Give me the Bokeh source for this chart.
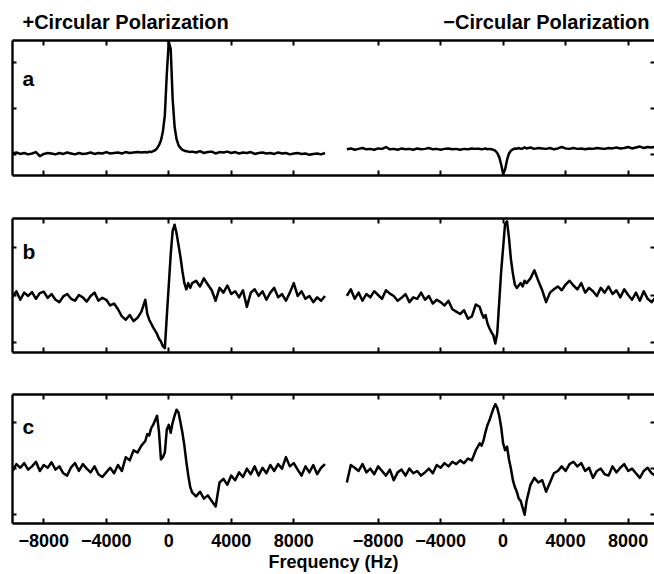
from bokeh.plotting import figure
from bokeh.models import Range1d, LinearAxis, FixedTicker, Label
from bokeh.layouts import column
from bokeh.core.properties import value
from bokeh.embed import file_html
from bokeh.resources import INLINE

# sample frequencies (Hz) shared by all six spectra
FREQ = (list(range(-10000, -1500, 250)) + list(range(-1500, 1500, 125))
        + list(range(1500, 10001, 250)))

X_TICKS = [-8000, -4000, 0, 4000, 8000]
X_TICK_LABELS = ["\u22128000", "\u22124000", "0", "4000", "8000"]
TITLE_PLUS = "+Circular Polarization"
TITLE_MINUS = "\u2212Circular Polarization"
X_LABEL = "Frequency (Hz)"
PANEL_LABELS = ["a", "b", "c"]

# ---- panel a ----
A_PLUS = [0.02, 0.04, 0.01, 0.03, 0.00, 0.02, 0.05, -0.04, 0.01, 0.03, 0.02, 0.00, 0.03, 0.01, 0.04, 0.02, 0.00,
          0.03, 0.01, 0.02, 0.04, 0.01, 0.03, 0.02, 0.05, 0.02, 0.03, 0.04, 0.02, 0.05, 0.03, 0.04, 0.05, 0.04,
          0.05, 0.04, 0.06, 0.05, 0.07, 0.09, 0.13, 0.20, 0.30, 0.50, 0.85, 1.75, 2.45, 2.30, 1.20, 0.60, 0.33,
          0.20, 0.14, 0.10, 0.08, 0.07, 0.06, 0.05,
          0.06, 0.04, 0.07, 0.03, 0.05, 0.06, 0.02, 0.05, 0.04, 0.06, 0.03, 0.05, 0.02, 0.04, 0.03, 0.05, 0.01,
          0.03, 0.04, 0.02, 0.03, 0.01, 0.04, 0.02, 0.03, 0.00, 0.02, 0.03, 0.01, 0.02, -0.01, 0.01, 0.02, 0.00, 0.03]
A_MINUS = [0.11, 0.13, 0.10, 0.12, 0.14, 0.11, 0.12, 0.10, 0.13, 0.12, 0.16, 0.11, 0.12, 0.10, 0.13, 0.11, 0.12,
           0.10, 0.13, 0.11, 0.12, 0.14, 0.11, 0.12, 0.10, 0.12, 0.13, 0.11, 0.12, 0.10, 0.12, 0.11, 0.13, 0.12,
           0.12, 0.11, 0.12, 0.13, 0.11, 0.12, 0.11, 0.10, 0.08, 0.03, -0.06, -0.22, -0.42, -0.33, -0.12, 0.02,
           0.08, 0.11, 0.13, 0.12, 0.14, 0.12, 0.13, 0.15,
           0.13, 0.15, 0.12, 0.14, 0.13, 0.12, 0.14, 0.11, 0.13, 0.16, 0.13, 0.12, 0.14, 0.12, 0.13, 0.11, 0.13,
           0.12, 0.14, 0.13, 0.12, 0.14, 0.13, 0.15, 0.13, 0.14, 0.16, 0.13, 0.15, 0.17, 0.14, 0.16, 0.15, 0.17, 0.15]
A_YTICKS = [0, 1, 2]
A_YLIM = (-0.46, 2.48)

# ---- panel b ----
B_PLUS = [-0.05, 0.08, -0.10, 0.05, -0.02, 0.06, -0.08, 0.04, 0.07, -0.06, 0.02, -0.10, -0.15, -0.03, 0.02, -0.08,
          -0.12, 0.00, -0.05, -0.14, -0.02, 0.05, -0.12, -0.06, -0.10, -0.22, -0.18, -0.30, -0.45, -0.52, -0.42,
          -0.55, -0.48, -0.35,
          -0.10, -0.40, -0.52, -0.60, -0.68, -0.75, -0.82, -0.92, -0.98, -1.08, -1.12, -0.45, 0.20, 0.85, 1.35,
          1.48, 1.30, 1.05, 0.80, 0.50, 0.25, 0.12, 0.25, 0.15,
          0.25, 0.30, 0.18, 0.35, 0.22, 0.10, -0.12, 0.15, 0.05, 0.20, 0.02, 0.08, -0.05, 0.10, -0.25, 0.05, 0.12,
          -0.02, 0.08, -0.10, 0.05, 0.15, -0.05, 0.02, -0.12, 0.05, 0.25, -0.02, 0.08, -0.08, -0.02, -0.15, -0.05,
          -0.12, -0.02]
B_MINUS = [-0.02, 0.12, -0.08, 0.05, -0.12, 0.02, -0.05, 0.08, 0.00, -0.08, 0.10, 0.03, -0.02, -0.12, -0.06, 0.02,
           -0.15, -0.05, -0.08, 0.05, -0.10, -0.02, -0.18, -0.10, -0.15, -0.22, -0.12, -0.30, -0.35, -0.40, -0.32,
           -0.50, -0.45, -0.20,
           -0.25, -0.38, -0.48, -0.42, -0.60, -0.70, -0.78, -0.85, -1.02, -0.80, -0.15, 0.50, 1.00, 1.50, 1.55,
           1.20, 0.75, 0.45, 0.22, 0.15, 0.20, 0.25, 0.18, 0.30,
           0.25, 0.35, 0.52, 0.30, 0.10, -0.15, 0.05, 0.12, 0.18, 0.10, 0.22, 0.30, 0.20, 0.12, 0.25, 0.05, 0.15,
           0.08, -0.02, 0.15, 0.05, 0.18, 0.02, 0.10, -0.05, 0.12, 0.00, -0.10, 0.05, -0.12, 0.08, -0.08, -0.15,
           -0.05, -0.10]
B_YTICKS = [-1, 0, 1]
B_YLIM = (-1.21, 1.61)

# ---- panel c ----
C_PLUS = [-0.05, 0.10, 0.02, 0.12, -0.02, 0.05, 0.15, -0.05, 0.08, 0.02, 0.14, -0.02, 0.05, -0.10, -0.15, 0.03,
          0.12, -0.05, 0.10, 0.00, -0.08, 0.05, -0.12, -0.18, -0.08, 0.02, -0.10, 0.08, -0.05, 0.25, 0.18, 0.40,
          0.35, 0.50,
          0.60, 0.75, 0.72, 0.88, 0.95, 1.05, 1.15, 0.80, 0.20, 0.25, 0.35, 0.85, 0.95, 0.78, 1.00, 1.15, 1.28,
          1.22, 1.00, 0.78, 0.50, 0.15, -0.15, -0.40,
          -0.52, -0.60, -0.50, -0.65, -0.58, -0.70, -0.82, -0.30, -0.22, -0.35, -0.15, -0.25, -0.08, -0.18, 0.00,
          -0.12, 0.05, -0.15, 0.02, -0.10, 0.08, -0.05, 0.10, 0.00, 0.25, 0.05, 0.12, -0.02, -0.15, 0.05, -0.08,
          0.08, -0.12, 0.02, 0.10]
C_MINUS = [-0.30, 0.08, 0.02, -0.05, 0.10, -0.08, 0.00, -0.12, 0.05, -0.05, -0.15, -0.02, -0.25, -0.08, -0.02,
           -0.15, 0.00, -0.10, -0.05, -0.15, -0.08, 0.00, -0.10, 0.08, 0.02, 0.12, 0.05, 0.15, 0.10, 0.18, 0.12,
           0.22, 0.18, 0.40,
           0.55, 0.50, 0.62, 0.80, 0.95, 1.05, 1.18, 1.30, 1.40, 1.32, 1.15, 0.90, 0.55, 0.40, 0.48, 0.20, 0.00,
           -0.25, -0.40, -0.50, -0.65, -0.70, -0.85, -1.00,
           -0.70, -0.35, -0.20, -0.30, -0.25, -0.50, -0.30, -0.10, -0.05, 0.05, -0.05, 0.10, 0.15, 0.05, 0.12,
           -0.05, 0.02, -0.20, -0.05, 0.00, -0.12, -0.15, 0.05, -0.08, 0.02, 0.10, -0.05, 0.00, -0.10, -0.20, -0.05,
           0.02, -0.10, -0.15, -0.08]
C_YTICKS = [-1, 0, 1]
C_YLIM = (-1.19, 1.61)

OFFSET = 21400          # where the right-hand spectrum sits on the shared axis
X_START, X_END = -10000, 31088

FONT = "Liberation Sans"
W = 654


def axis(ticks, tick_len, line=True, overrides=None, show_labels=False):
    ax = LinearAxis(ticker=FixedTicker(ticks=ticks), major_tick_in=tick_len, major_tick_out=0,
                    minor_tick_in=0, minor_tick_out=0, axis_line_width=2.4, major_tick_line_width=2,
                    axis_line_color="black" if line else None, major_tick_line_color="black")
    if show_labels:
        ax.major_label_overrides = overrides
        ax.major_label_text_font = FONT
        ax.major_label_text_font_style = "bold"
        ax.major_label_text_font_size = "18px"
        ax.major_label_text_color = "black"
        ax.major_label_standoff = 10
    else:
        ax.major_label_text_color = None
        ax.major_label_text_font_size = "0px"
        ax.major_label_standoff = 0
    return ax


def panel(plus, minus, yticks, ylim, letter, height, top, bottom, drop, last=False):
    p = figure(width=W, height=height, x_range=Range1d(X_START, X_END), y_range=Range1d(*ylim),
               output_backend="svg", toolbar_location=None, x_axis_location=None, y_axis_location=None,
               min_border_left=12, min_border_right=0, min_border_top=top, min_border_bottom=bottom,
               outline_line_color=None, background_fill_color="white", border_fill_color="white")
    p.grid.visible = False
    p.line(FREQ, plus, line_color="black", line_width=2.5, line_join="round")
    p.line([f + OFFSET for f in FREQ], minus, line_color="black", line_width=2.5, line_join="round")

    xt = X_TICKS + [t + OFFSET for t in X_TICKS]
    ov = {}
    for t, lab in zip(X_TICKS, X_TICK_LABELS):
        ov[t] = lab
        ov[t + OFFSET] = lab
    p.add_layout(axis(yticks, 4), "left")
    p.add_layout(axis(yticks, 4, line=False), "right")
    p.add_layout(axis(xt, 5), "above")
    bx = axis(xt, 5, overrides=ov, show_labels=last)
    if last:
        bx.axis_label = X_LABEL
        bx.axis_label_text_font = FONT
        bx.axis_label_text_font_style = "bold"
        bx.axis_label_text_font_size = "18px"
        bx.axis_label_text_color = "black"
        bx.axis_label_standoff = 2
    p.add_layout(bx, "below")

    p.add_layout(Label(x=X_START, y=ylim[1], x_offset=10, y_offset=-drop, text=letter, text_font=FONT,
                       text_font_style="bold", text_font_size="21px", text_color="black",
                       text_baseline="alphabetic"))
    return p


# strip holding the two column headings
pt = figure(width=W, height=39, x_range=Range1d(X_START, X_END), y_range=Range1d(0, 39),
            output_backend="svg", toolbar_location=None, x_axis_location=None, y_axis_location=None,
            min_border_left=12, min_border_right=0, min_border_top=0, min_border_bottom=0,
            outline_line_color=None, background_fill_color="white", border_fill_color="white")
pt.grid.visible = False
pt.text(x=[X_START], y=[18], text=[TITLE_PLUS], x_offset=10, text_font=value(FONT),
        text_font_style="bold", text_font_size="20px", text_color="black",
        text_baseline="alphabetic", text_align="left")
pt.text(x=[X_END], y=[18], text=[TITLE_MINUS], x_offset=-5, text_font=value(FONT),
        text_font_style="bold", text_font_size="20px", text_color="black",
        text_baseline="alphabetic", text_align="right")

pa = panel(A_PLUS, A_MINUS, A_YTICKS, A_YLIM, PANEL_LABELS[0], 138, 1, 2, 38)
pb = panel(B_PLUS, B_MINUS, B_YTICKS, B_YLIM, PANEL_LABELS[1], 177, 41, 2, 33)
pc = panel(C_PLUS, C_MINUS, C_YTICKS, C_YLIM, PANEL_LABELS[2], 220, 40, 47, 32, last=True)

layout = column(pt, pa, pb, pc)
open("out.html", "w").write(file_html(layout, INLINE))
